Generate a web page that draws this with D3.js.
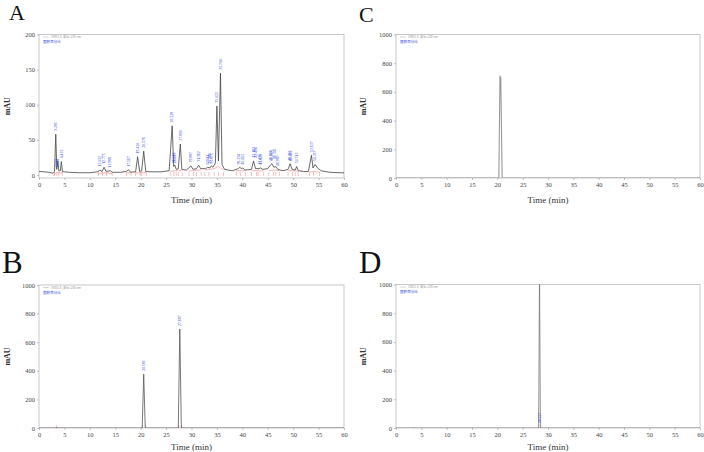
<!DOCTYPE html>
<html>
<head>
<meta charset="utf-8">
<script src="https://cdn.jsdelivr.net/npm/d3@7"></script>
<style>
  body { margin: 0; background: #fff; }
  svg { display: block; }
  .tick text { font-family: "Liberation Serif", serif; font-size: 6.5px; fill: #444; }
  .tick line { stroke: #999; stroke-width: 0.6; }
</style>
</head>
<body>
<svg id="chart" width="704" height="452"></svg>
<script>
// time axis ticks shared by all panels
var xTicks = [0, 5, 10, 15, 20, 25, 30, 35, 40, 45, 50, 55, 60];
var yTicksA = [0, 50, 100, 150, 200];
var yTicksBig = [0, 200, 400, 600, 800, 1000];

// panel A trace: [time (min), mAU]
var traceA = [[0,5],[1,4.5],[2,3.8],[2.8,2.5],[3.05,5],[3.3,58],[3.5,8],[3.7,20],[3.9,6],[4.2,6],[4.4,19],[4.6,5],[5,4.5],[6,3.8],[8,3.2],[10,3.2],
  [11.5,4.5],[12.0,7],[12.4,5],[12.8,11],[13.2,5],[14.0,6],[14.5,3.8],[16,3.8],[17.2,5],[17.6,7.5],[18,4],[19.0,4.5],[19.4,26],[19.8,5],[20.2,6],
  [20.6,34],[21.0,5],[22,4.5],[24,4.5],[25.6,6],[26.2,70],[26.5,12],[26.7,14],[27.0,8],[27.4,9],[27.8,44],[28.1,8],[29,7],[29.9,13],[30.3,8],
  [31,9],[31.4,14],[31.8,9],[32.8,9],[33.2,11],[33.6,10],[33.9,13],[34.2,11],[34.7,17],[35.0,98],[35.3,20],[35.7,145],[36.0,15],[36.5,8],
  [38,6],[39.2,9],[39.5,11],[39.8,9],[40.1,10],[40.5,7],[41.8,8],[42.2,20],[42.6,9],[43.3,9],[43.6,10],[44,8],[45,9],[45.5,14],[45.8,16],
  [46.2,11],[46.6,12],[47,8],[48,6],[49.0,8],[49.4,16],[49.8,8],[50.4,7],[50.7,12],[51,6],[52,5],[53,5],[53.6,28],[53.9,10],[54.3,15],
  [54.8,10],[55.5,6],[57,4],[58,3.5],[60,3]];
// red integration baseline pieces for A
var redA = [[[2.8,-2],[3.05,1],[3.5,4],[3.9,3],[4.6,3]],[[11.7,2],[12.5,3],[13.3,3],[14.4,2]],[[17.2,3],[18.1,3]],[[19.0,3],[19.9,3],[20.2,4],[21.1,3]],
  [[25.8,5],[26.5,6],[27.0,6],[27.4,7],[28.2,6]],[[29.5,6],[30.4,6],[31.0,7],[31.9,7]],[[32.6,7],[33.4,8],[34.5,9],[35.3,12],[36.3,7]],
  [[38.8,6],[39.6,6],[40.6,6]],[[41.8,6],[42.8,6],[43.1,6],[44.2,6]],[[45.2,6],[46.1,7],[46.6,7],[47.3,6]],[[49.0,6],[49.9,6],[50.4,6],[51.0,5]],
  [[53.2,4],[54.0,5],[55.2,4]]];
var redTicksA = [3.05,3.5,3.9,4.6,11.7,12.5,13.3,14.4,17.2,18.1,19.0,19.9,20.2,21.1,25.8,26.5,27.0,27.4,28.2,29.5,30.4,31.0,31.9,32.6,33.4,
  34.5,35.3,36.3,38.8,39.6,40.6,41.8,42.8,43.1,44.2,45.2,46.1,46.6,47.3,49.0,49.9,50.4,51.0,53.2,54.0,55.2];
// peak labels for A: [time, mAU at label foot, text]
var labelsA = [[3.3,60,"3.285"],[3.7,8,"3.678"],[3.55,8,"3.573"],[4.4,21,"4.433"],[12.0,9,"12.032"],[12.8,13,"12.775"],[14.0,8,"13.986"],
  [17.6,9,"17.567"],[19.4,28,"19.420"],[20.6,36,"20.576"],[26.2,72,"26.228"],[26.55,14,"26.513"],[26.75,14,"26.697"],[27.8,46,"27.800"],
  [29.9,15,"29.887"],[31.4,16,"31.362"],[33.2,11,"32.911"],[33.65,13,"33.589"],[33.95,13,"33.875"],[35.0,100,"35.023"],[35.7,147,"35.704"],
  [39.2,12,"39.234"],[40.0,12,"40.012"],[42.2,22,"42.183"],[42.55,22,"42.496"],[43.4,12,"43.431"],[43.7,12,"43.625"],[45.6,17,"45.677"],
  [45.85,18,"45.889"],[46.3,20,"46.345"],[47.0,10,"46.990"],[49.3,17,"49.350"],[49.5,17,"49.482"],[50.7,14,"50.713"],[53.6,30,"53.637"],[54.3,17,"54.337"]];

// panel B
var traceB = [[0,0],[3.3,0],[3.5,4],[3.7,0],[20.3,0],[20.6,376],[20.9,0],[27.4,0],[27.7,692],[28.0,0],[60,0]];
var redTicksB = [3.4,20.4,21.0,27.5,28.1];
var labelsB = [[20.6,385,"20.583"],[27.7,700,"27.687"]];

// panel C
var traceC = [[0,0],[20.3,0],[20.52,712],[20.6,690],[20.68,700],[20.95,0],[60,0]];

// panel D
var traceD = [[0,0],[3.3,0],[3.5,4],[3.7,0],[28.15,0],[28.33,1100],[28.5,0],[60,0]];
var redTicksD = [28.1, 28.6];
var labelsD = [[28.3,20,"28.327"]];

var svg = d3.select("#chart");

function drawPanel(p) {
  var x = d3.scaleLinear().domain([0, 60]).range([p.left, p.right]);
  var y = d3.scaleLinear().domain(p.yDomain).range([p.bottom, p.top]);
  var g = svg.append("g");

  g.append("clipPath").attr("id", "clip" + p.name)
    .append("rect").attr("x", p.left).attr("y", p.top)
    .attr("width", p.right - p.left).attr("height", p.bottom - p.top);

  // frame
  g.append("rect").attr("x", p.left).attr("y", p.top)
    .attr("width", p.right - p.left).attr("height", p.bottom - p.top)
    .attr("fill", "none").attr("stroke", "#bbb").attr("stroke-width", 0.8);

  var yAxis = g.append("g").attr("transform", "translate(" + p.left + ",0)")
    .call(d3.axisLeft(y).tickValues(p.yTicks).tickFormat(d3.format("d")).tickSize(2).tickPadding(2));
  yAxis.select(".domain").remove();

  var xAxis = g.append("g").attr("transform", "translate(0," + p.bottom + ")")
    .call(d3.axisBottom(x).tickValues(xTicks).tickFormat(d3.format("d")).tickSize(2).tickPadding(2));
  xAxis.select(".domain").remove();
  g.selectAll(".tick text").attr("font-family", "Liberation Serif");

  // legend text in the corner
  g.append("line").attr("x1", p.left + 4).attr("x2", p.left + 10)
    .attr("y1", p.top + 2.5).attr("y2", p.top + 2.5).attr("stroke", "#aaa").attr("stroke-width", 0.5);
  g.append("text").attr("x", p.left + 12).attr("y", p.top + 3.8)
    .style("font-family", "Noto Sans CJK SC").style("font-size", "3px").attr("fill", "#999")
    .text("VWD1 A, 波长=280 nm");
  g.append("text").attr("x", p.left + 4).attr("y", p.top + 8.8)
    .style("font-family", "Noto Sans CJK SC").style("font-size", "3.6px").attr("fill", "#3344dd")
    .text("面积百分比");

  var line = d3.line().x(function(d){ return x(d[0]); }).y(function(d){ return y(d[1]); });
  var plot = g.append("g").attr("clip-path", "url(#clip" + p.name + ")");

  if (p.red) {
    p.red.forEach(function(seg){
      plot.append("path").attr("d", line(seg)).attr("fill", "none")
        .attr("stroke", "#f08080").attr("stroke-width", 0.6);
    });
  }
  if (p.redTicks) {
    plot.selectAll(".rt").data(p.redTicks).enter().append("line")
      .attr("x1", function(d){ return x(d); }).attr("x2", function(d){ return x(d); })
      .attr("y1", p.redTickY - 2).attr("y2", p.redTickY + 2)
      .attr("stroke", "#f08080").attr("stroke-width", 0.5);
  }

  plot.append("path").attr("d", line(p.trace)).attr("fill", "none")
    .attr("stroke", p.color).attr("stroke-width", p.lw).attr("stroke-linejoin", "round");

  if (p.labels) {
    g.selectAll(".pl").data(p.labels).enter().append("text")
      .attr("transform", function(d){ return "translate(" + (x(d[0]) + 1.3) + "," + (y(d[1]) - 2) + ") rotate(-90)"; })
      .style("font-family", "Liberation Serif").style("font-size", "3.8px")
      .attr("fill", "#3344dd").text(function(d){ return d[2]; });
  }

  // axis titles
  g.append("text")
    .attr("transform", "translate(" + p.mauX + "," + ((p.top + p.bottom) / 2) + ") rotate(-90)")
    .attr("text-anchor", "middle")
    .style("font-family", "Liberation Serif").style("font-size", "8px").style("font-weight", "bold")
    .attr("fill", "#333").text("mAU");
  g.append("text").attr("x", (p.left + p.right) / 2).attr("y", p.bottom + p.titleDy)
    .attr("text-anchor", "middle")
    .style("font-family", "Liberation Serif").style("font-size", "9px")
    .attr("fill", "#333").text("Time (min)");

  svg.append("text").attr("x", p.letterX).attr("y", p.letterY)
    .style("font-family", "Liberation Serif").style("font-size", p.letterSize + "px")
    .attr("fill", "#111").text(p.name);
}

drawPanel({name: "A", left: 39, right: 344, top: 34.5, bottom: 178, yDomain: [-4.3, 200], yTicks: yTicksA,
  trace: traceA, red: redA, redTicks: redTicksA, redTickY: 174, labels: labelsA, color: "#444", lw: 0.8,
  mauX: 10, titleDy: 25, letterX: 9, letterY: 20, letterSize: 22});
drawPanel({name: "B", left: 39, right: 344, top: 285, bottom: 428, yDomain: [0, 1000], yTicks: yTicksBig,
  trace: traceB, redTicks: redTicksB, redTickY: 427, labels: labelsB, color: "#555", lw: 0.8,
  mauX: 10, titleDy: 21.5, letterX: 2, letterY: 273, letterSize: 31});
drawPanel({name: "C", left: 396, right: 700, top: 34.5, bottom: 178, yDomain: [0, 1000], yTicks: yTicksBig,
  trace: traceC, color: "#999", lw: 1.1,
  mauX: 366, titleDy: 25, letterX: 359, letterY: 22, letterSize: 22});
drawPanel({name: "D", left: 396, right: 700, top: 284.5, bottom: 428, yDomain: [0, 1000], yTicks: yTicksBig,
  trace: traceD, redTicks: redTicksD, redTickY: 427, labels: labelsD, color: "#777", lw: 0.8,
  mauX: 366, titleDy: 21.5, letterX: 359, letterY: 273, letterSize: 31});
</script>
</body>
</html>
